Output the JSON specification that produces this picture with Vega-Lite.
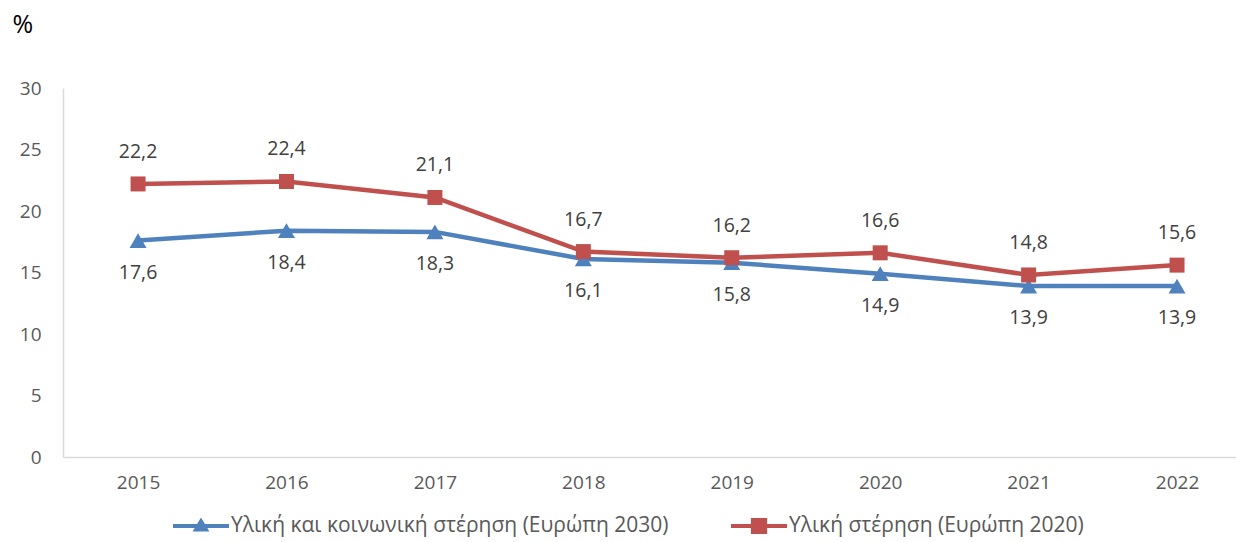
{
  "$schema": "https://vega.github.io/schema/vega-lite/v6.json",
  "width": 1173,
  "height": 369,
  "autosize": {"type": "none"},
  "padding": {"left": 63, "top": 88, "right": 0, "bottom": 85},
  "background": "white",
  "config": {
    "view": {"stroke": null},
    "font": "Open Sans",
    "locale": {"number": {"decimal": ",", "thousands": ".", "grouping": [3], "currency": ["", " €"]}}
  },
  "data": {
    "values": [
      {"year": "2015", "series": "Υλική και κοινωνική στέρηση (Ευρώπη 2030)", "value": 17.6},
      {"year": "2016", "series": "Υλική και κοινωνική στέρηση (Ευρώπη 2030)", "value": 18.4},
      {"year": "2017", "series": "Υλική και κοινωνική στέρηση (Ευρώπη 2030)", "value": 18.3},
      {"year": "2018", "series": "Υλική και κοινωνική στέρηση (Ευρώπη 2030)", "value": 16.1},
      {"year": "2019", "series": "Υλική και κοινωνική στέρηση (Ευρώπη 2030)", "value": 15.8},
      {"year": "2020", "series": "Υλική και κοινωνική στέρηση (Ευρώπη 2030)", "value": 14.9},
      {"year": "2021", "series": "Υλική και κοινωνική στέρηση (Ευρώπη 2030)", "value": 13.9},
      {"year": "2022", "series": "Υλική και κοινωνική στέρηση (Ευρώπη 2030)", "value": 13.9},
      {"year": "2015", "series": "Υλική  στέρηση (Ευρώπη 2020)", "value": 22.2},
      {"year": "2016", "series": "Υλική  στέρηση (Ευρώπη 2020)", "value": 22.4},
      {"year": "2017", "series": "Υλική  στέρηση (Ευρώπη 2020)", "value": 21.1},
      {"year": "2018", "series": "Υλική  στέρηση (Ευρώπη 2020)", "value": 16.7},
      {"year": "2019", "series": "Υλική  στέρηση (Ευρώπη 2020)", "value": 16.2},
      {"year": "2020", "series": "Υλική  στέρηση (Ευρώπη 2020)", "value": 16.6},
      {"year": "2021", "series": "Υλική  στέρηση (Ευρώπη 2020)", "value": 14.8},
      {"year": "2022", "series": "Υλική  στέρηση (Ευρώπη 2020)", "value": 15.6}
    ]
  },
  "encoding": {
    "x": {
      "field": "year", "type": "ordinal",
      "scale": {"type": "point", "padding": 0.4515, "align": 0.56},
      "axis": {
        "title": null, "labelAngle": 0, "labelFontSize": 19, "labelColor": "#595959",
        "labelPadding": 16, "ticks": false, "domainColor": "#D9D9D9", "domainWidth": 1.5, "grid": false
      }
    },
    "y": {
      "field": "value", "type": "quantitative",
      "scale": {"domain": [0, 30], "nice": false},
      "axis": {
        "values": [0, 5, 10, 15, 20, 25, 30], "grid": false, "ticks": false,
        "labelFontSize": 19, "labelColor": "#595959", "labelPadding": 22,
        "domainColor": "#D9D9D9", "domainWidth": 1.5,
        "title": "%", "titleAngle": 0, "titleAlign": "left", "titleBaseline": "middle",
        "titleX": -51, "titleY": -64, "titleFontSize": 25, "titleFontWeight": "normal", "titleColor": "#000000"
      }
    },
    "color": {
      "field": "series", "type": "nominal",
      "scale": {
        "domain": ["Υλική και κοινωνική στέρηση (Ευρώπη 2030)", "Υλική  στέρηση (Ευρώπη 2020)"],
        "range": ["#4F81BD", "#C0504D"]
      },
      "legend": {
        "title": null, "orient": "none", "legendX": 110, "legendY": 410,
        "direction": "horizontal", "columns": 2, "columnPadding": 62,
        "symbolSize": 3136, "symbolStrokeWidth": 0, "labelOffset": 2,
        "labelFontSize": 21, "labelColor": "#595959", "labelLimit": 0,
        "encode": {
          "symbols": {
            "update": {
              "fill": {"scale": "color", "field": "value"},
              "strokeWidth": {"value": 0},
              "shape": {"signal": "datum.index === 0 ? 'M-1,-0.07H1V0.07H-1Z M0,-0.3L0.3,0.2H-0.3Z' : 'M-1,-0.07H1V0.07H-1Z M-0.29,-0.29H0.29V0.29H-0.29Z'"}
            }
          }
        }
      }
    }
  },
  "layer": [
    {"mark": {"type": "line", "strokeWidth": 4.5}},
    {
      "transform": [{"filter": "datum.series === 'Υλική και κοινωνική στέρηση (Ευρώπη 2030)'"}],
      "mark": {"type": "point", "shape": "triangle-up", "size": 290, "filled": true, "opacity": 1}
    },
    {
      "transform": [{"filter": "datum.series === 'Υλική  στέρηση (Ευρώπη 2020)'"}],
      "mark": {"type": "point", "shape": "square", "size": 225, "filled": true, "opacity": 1}
    },
    {
      "transform": [{"filter": "datum.series === 'Υλική και κοινωνική στέρηση (Ευρώπη 2030)'"}],
      "mark": {"type": "text", "dy": 32, "fontSize": 19.5, "color": "#404040", "baseline": "middle"},
      "encoding": {"text": {"field": "value", "type": "quantitative", "format": ".1f"}, "color": {"value": "#404040"}}
    },
    {
      "transform": [{"filter": "datum.series === 'Υλική  στέρηση (Ευρώπη 2020)'"}],
      "mark": {"type": "text", "dy": -32, "fontSize": 19.5, "color": "#404040", "baseline": "middle"},
      "encoding": {"text": {"field": "value", "type": "quantitative", "format": ".1f"}, "color": {"value": "#404040"}}
    }
  ]
}
